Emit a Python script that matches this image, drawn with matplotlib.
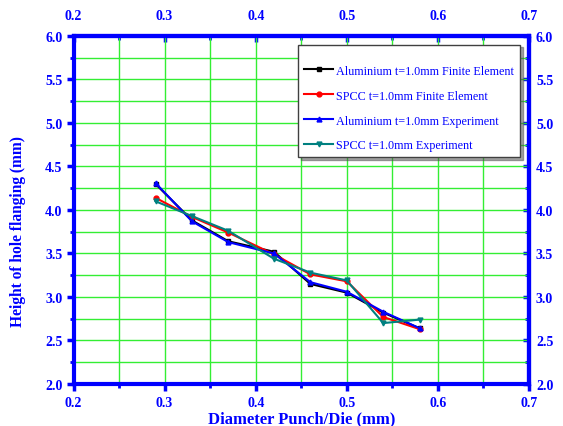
import matplotlib

matplotlib.use("Agg")
import matplotlib.pyplot as plt
from matplotlib.ticker import FixedLocator, FormatStrFormatter

plt.rcParams["font.family"] = ["Liberation Serif", "DejaVu Serif"]

diameter = [0.29, 0.33, 0.37, 0.42, 0.46, 0.50, 0.54, 0.58]
alu_fe = [4.30, 3.88, 3.64, 3.52, 3.15, 3.05, 2.82, 2.64]
spcc_fe = [4.14, 3.92, 3.74, 3.49, 3.26, 3.18, 2.77, 2.63]
alu_exp = [4.31, 3.87, 3.63, 3.50, 3.17, 3.06, 2.83, 2.64]
spcc_exp = [4.10, 3.93, 3.76, 3.44, 3.28, 3.19, 2.70, 2.74]

x_major = [0.2, 0.3, 0.4, 0.5, 0.6, 0.7]
x_minor = [0.25, 0.35, 0.45, 0.55, 0.65]
y_major = [2.0, 2.5, 3.0, 3.5, 4.0, 4.5, 5.0, 5.5, 6.0]
y_minor = [2.25, 2.75, 3.25, 3.75, 4.25, 4.75, 5.25, 5.75]

series = [
    (alu_fe, "black", "s", "Aluminium t=1.0mm Finite Element"),
    (spcc_fe, "red", "o", "SPCC t=1.0mm Finite Element"),
    (alu_exp, "blue", "^", "Aluminium t=1.0mm Experiment"),
    (spcc_exp, "#008080", "v", "SPCC t=1.0mm Experiment"),
]

blue = "#0000ff"
fig = plt.figure(figsize=(5.63, 4.27), dpi=100)
ax = fig.add_axes([0.1306, 0.0984, 0.809, 0.815])

for ys, c, m, lab in series:
    ax.plot(diameter, ys, color=c, marker=m, markersize=3.5, linewidth=1.5, label=lab)

ax.set_xlim(0.2, 0.7)
ax.set_ylim(2.0, 6.0)
ax.grid(True, which="both", color="#33ee33", linewidth=1.0)
ax.set_axisbelow(True)

top = ax.secondary_xaxis("top")
right = ax.secondary_yaxis("right")

for a in (ax, top, right):
    for s in a.spines.values():
        s.set_color(blue)
        s.set_linewidth(3)

for axis in (ax.xaxis, top.xaxis):
    axis.set_major_locator(FixedLocator(x_major))
    axis.set_minor_locator(FixedLocator(x_minor))
    axis.set_major_formatter(FormatStrFormatter("%.1f"))
for axis in (ax.yaxis, right.yaxis):
    axis.set_major_locator(FixedLocator(y_major))
    axis.set_minor_locator(FixedLocator(y_minor))
    axis.set_major_formatter(FormatStrFormatter("%.1f"))

ax.tick_params(which="both", direction="out", color=blue, labelcolor=blue, labelsize=10)
ax.tick_params(which="major", length=5, width=2.5)
ax.tick_params(which="minor", length=3, width=2)
ax.tick_params(axis="x", pad=3.5)
ax.tick_params(axis="y", pad=3)
top.tick_params(which="both", direction="in", color=blue, labelcolor=blue, labelsize=10)
top.tick_params(which="major", length=4, width=2.5, pad=10)
top.tick_params(which="minor", length=3, width=2)
right.tick_params(which="both", direction="in", color=blue, labelcolor=blue, labelsize=10)
right.tick_params(which="major", length=4, width=2.5, pad=5)
right.tick_params(which="minor", length=3, width=2)

fig.canvas.draw()
for a in (ax, top, right):
    for lab in a.get_xticklabels() + a.get_yticklabels():
        lab.set_fontweight("bold")

ax.set_xlabel("Diameter Punch/Die (mm)", color=blue, fontweight="bold", fontsize=12, labelpad=1)
ax.set_ylabel("Height of hole flanging (mm)", color=blue, fontweight="bold", fontsize=11.2)
ax.yaxis.set_label_coords(-0.104, 0.44)

leg = ax.legend(loc="upper left", bbox_to_anchor=(0.493, 0.975), borderaxespad=0,
                fontsize=8.7, labelspacing=1.07, handlelength=2.4, handletextpad=0.25,
                borderpad=0.5, title=" ", title_fontsize=1,
                fancybox=False, shadow=True, framealpha=1)
leg.get_frame().set_edgecolor("#404040")
leg.get_frame().set_linewidth(1)
for t in leg.get_texts():
    t.set_color(blue)

fig.savefig("out.png", dpi=100)
